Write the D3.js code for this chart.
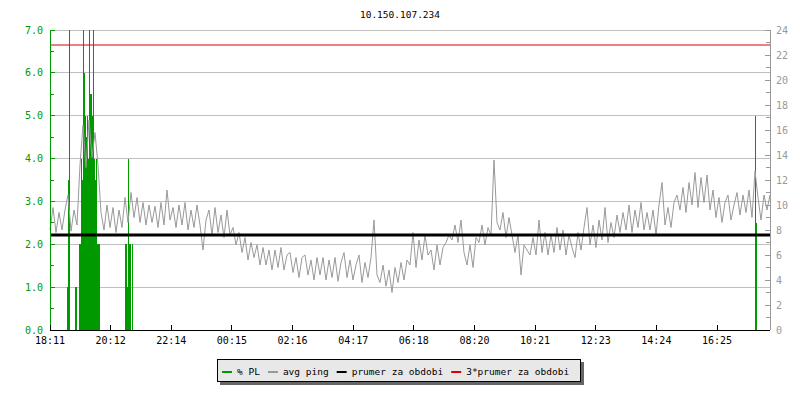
<!DOCTYPE html>
<html>
<head>
<meta charset="utf-8">
<script src="https://cdn.jsdelivr.net/npm/d3@7"></script>
<style>
  body { margin: 0; background: #fff; }
  text { font-family: "DejaVu Sans Mono", monospace; }
</style>
</head>
<body>
<script>
// Popisky a data
const title = "10.150.107.234";
const xTickLabels = ["18:11", "20:12", "22:14", "00:15", "02:16", "04:17",
                     "06:18", "08:20", "10:21", "12:23", "14:24", "16:25"];
const xTickStep = 1334 / 11;   // minuty mezi popisky
const totalMinutes = 1440;
const pingStep = 6;            // minuty mezi vzorky ping

// avg ping [ms], jeden vzorek kazdych 6 minut
const avgPing = [
  8.0, 9.8, 7.8, 9.4, 8.0, 9.6, 10.8, 7.9, 9.6, 8.4,
  13.2, 16.4, 13.0, 16.8, 13.8, 15.8, 13.2, 9.4, 8.0, 10.0,
  8.2, 9.8, 7.8, 9.6, 8.2, 10.6, 8.6, 11.0, 9.0, 10.6,
  8.6, 10.2, 8.4, 10.0, 8.6, 9.9, 8.2, 10.2, 8.4, 11.2,
  8.8, 9.8, 8.2, 10.0, 8.4, 10.2, 8.0, 9.6, 8.2, 10.0,
  8.4, 6.4, 8.8, 9.6, 7.6, 9.8, 7.8, 9.2, 7.4, 9.6,
  7.6, 8.2, 6.8, 7.8, 6.2, 7.4, 5.6, 7.0, 5.8, 6.8,
  5.2, 6.6, 5.2, 6.4, 4.8, 6.4, 5.0, 6.6, 4.8, 6.0,
  6.2, 4.6, 5.8, 4.2, 5.8, 6.0, 4.4, 5.6, 4.0, 5.8,
  4.4, 5.8, 4.0, 5.6, 4.2, 5.8, 3.9, 5.4, 6.2, 4.2,
  5.6, 4.0, 5.2, 6.0, 3.8, 5.4, 4.2, 5.8, 8.8, 4.4,
  3.8, 5.2, 3.5, 4.8, 3.0, 5.0, 3.8, 5.4, 4.0, 5.6,
  5.2, 7.8, 5.0, 7.2, 5.6, 7.6, 6.0, 6.4, 4.8, 6.8,
  5.2, 6.6, 7.0, 7.6, 7.2, 8.4, 7.0, 8.8, 6.2, 5.2,
  6.8, 5.0, 7.4, 7.0, 8.4, 6.8, 8.2, 7.6, 13.6, 8.6,
  8.0, 9.4, 7.4, 9.0, 7.6, 6.2, 7.6, 4.4, 6.8, 6.4,
  6.0, 7.4, 6.0, 8.8, 6.2, 7.8, 6.0, 7.6, 6.2, 8.2,
  6.4, 8.0, 6.0, 7.6, 6.6, 5.8, 7.8, 6.4, 8.2, 9.8,
  6.8, 8.4, 6.6, 8.8, 7.2, 9.8, 7.0, 8.6, 7.4, 9.2,
  7.8, 9.4, 8.0, 10.0, 7.8, 9.6, 8.2, 10.2, 8.0, 9.4,
  8.0, 9.6, 7.6, 10.0, 11.8, 8.4, 9.8, 8.2, 10.2, 10.8,
  9.6, 11.4, 9.4, 11.8, 10.0, 12.6, 9.8, 12.2, 10.2, 12.4,
  9.6, 11.2, 9.0, 10.6, 8.6, 10.2, 10.8, 8.8, 10.0, 11.0,
  9.2, 10.8, 9.4, 11.2, 9.0, 12.7, 10.6, 8.8, 10.8, 9.6,
  10.8
];

// % PL - jen nenulove vzorky (minuta od zacatku, hodnota)
const plTime  = [34, 36, 38, 50, 52, 58, 60, 62, 64, 66, 68, 70, 72, 74, 76, 78, 80, 82,
                 84, 86, 88, 90, 92, 94, 96, 98, 150, 152, 154, 156, 158, 160, 164, 1410, 1412];
const plValue = [1.0, 3.5, 8.0, 1.0, 1.0, 2.0, 2.0, 4.0, 3.5, 8.0, 6.0, 5.0, 4.5, 5.0, 4.0, 8.0, 5.5, 5.5,
                 5.0, 8.0, 4.0, 3.5, 4.0, 2.0, 2.0, 2.0, 2.0, 2.0, 1.0, 4.0, 2.0, 2.0, 2.0, 5.0, 2.5];

const meanPing = 7.6;   // prumer za obdobi [ms]

const leftTicks  = d3.range(0, 7.01, 1);
const rightTicks = d3.range(0, 24.01, 2);

const legendLabels = ["% PL", "avg ping", "prumer za obdobi", "3*prumer za obdobi"];
const legendColors = ["#009900", "#999999", "#000000", "#dd0000"];

// Rozmery
const W = 800, H = 400;
const L = 50, R = 770, T = 30, B = 330;

const svg = d3.select("body").append("svg")
    .attr("width", W)
    .attr("height", H);

const x = d3.scaleLinear().domain([0, totalMinutes]).range([L, R]);
const yPL = d3.scaleLinear().domain([0, 7]).range([B, T]);
const yMs = d3.scaleLinear().domain([0, 24]).range([B, T]);

// Titulek
svg.append("text")
    .attr("x", 400).attr("y", 18)
    .attr("text-anchor", "middle")
    .style("font-size", "9.5px")
    .text(title);

// Mrizka
svg.append("g")
  .selectAll("line")
  .data(leftTicks.filter(d => d > 0))
  .enter().append("line")
    .attr("x1", L).attr("x2", R)
    .attr("y1", d => yPL(d)).attr("y2", d => yPL(d))
    .attr("stroke", "#c0c0c0")
    .attr("shape-rendering", "crispEdges");

// % PL sloupce
svg.append("clipPath").attr("id", "plot")
  .append("rect").attr("x", L).attr("y", T).attr("width", R - L).attr("height", B - T);

svg.append("g")
    .attr("clip-path", "url(#plot)")
  .selectAll("rect")
  .data(plTime)
  .enter().append("rect")
    .attr("x", d => x(d))
    .attr("width", d => x(d + 2) - x(d))
    .attr("y", (d, i) => yPL(plValue[i]))
    .attr("height", (d, i) => B - yPL(plValue[i]))
    .attr("fill", "#009900")
    .attr("shape-rendering", "crispEdges");

// avg ping
const line = d3.line()
    .x((d, i) => x(i * pingStep))
    .y(d => yMs(d));

svg.append("path")
    .datum(avgPing)
    .attr("d", line)
    .attr("fill", "none")
    .attr("stroke", "#999999")
    .attr("stroke-width", 1);

// Prumer a 3*prumer
svg.append("line")
    .attr("x1", L).attr("x2", R)
    .attr("y1", yMs(meanPing)).attr("y2", yMs(meanPing))
    .attr("stroke", "#000").attr("stroke-width", 3);

svg.append("line")
    .attr("x1", L).attr("x2", R)
    .attr("y1", yMs(3 * meanPing)).attr("y2", yMs(3 * meanPing))
    .attr("stroke", "#dd0000").attr("stroke-width", 1.2);

// Leva osa (% PL)
const leftAxis = svg.append("g").attr("transform", "translate(" + L + ",0)");
leftAxis.append("line")
    .attr("y1", T).attr("y2", B)
    .attr("stroke", "#009900").attr("shape-rendering", "crispEdges");
leftAxis.selectAll(".minor")
  .data(d3.range(0.5, 7, 1))
  .enter().append("line")
    .attr("x1", 0).attr("x2", 4)
    .attr("y1", d => yPL(d)).attr("y2", d => yPL(d))
    .attr("stroke", "#009900").attr("shape-rendering", "crispEdges");
leftAxis.selectAll(".major")
  .data(leftTicks)
  .enter().append("line")
    .attr("x1", 0).attr("x2", 5)
    .attr("y1", d => yPL(d)).attr("y2", d => yPL(d))
    .attr("stroke", "#009900").attr("shape-rendering", "crispEdges");
leftAxis.selectAll("text")
  .data(leftTicks)
  .enter().append("text")
    .attr("x", -7)
    .attr("y", d => yPL(d))
    .attr("dy", "0.35em")
    .attr("text-anchor", "end")
    .attr("fill", "#009900")
    .style("font-size", "10px")
    .text(d => d3.format(".1f")(d));

// Prava osa (ms)
const rightAxis = svg.append("g").attr("transform", "translate(" + R + ",0)");
rightAxis.append("line")
    .attr("y1", T).attr("y2", B)
    .attr("stroke", "#999999").attr("shape-rendering", "crispEdges");
rightAxis.selectAll(".minor")
  .data(d3.range(1, 24, 2))
  .enter().append("line")
    .attr("x1", -4).attr("x2", 0)
    .attr("y1", d => yMs(d)).attr("y2", d => yMs(d))
    .attr("stroke", "#999999").attr("shape-rendering", "crispEdges");
rightAxis.selectAll(".major")
  .data(rightTicks)
  .enter().append("line")
    .attr("x1", -5).attr("x2", 0)
    .attr("y1", d => yMs(d)).attr("y2", d => yMs(d))
    .attr("stroke", "#999999").attr("shape-rendering", "crispEdges");
rightAxis.selectAll("text")
  .data(rightTicks)
  .enter().append("text")
    .attr("x", 6)
    .attr("y", d => yMs(d))
    .attr("dy", "0.35em")
    .attr("fill", "#999999")
    .style("font-size", "10px")
    .text(d => d);

// Spodni osa (cas)
const xAxis = svg.append("g");
xAxis.append("line")
    .attr("x1", L).attr("x2", R)
    .attr("y1", B).attr("y2", B)
    .attr("stroke", "#000").attr("shape-rendering", "crispEdges");
xAxis.selectAll(".tick")
  .data(xTickLabels)
  .enter().append("line")
    .attr("x1", (d, i) => x(i * xTickStep)).attr("x2", (d, i) => x(i * xTickStep))
    .attr("y1", B - 5).attr("y2", B)
    .attr("stroke", "#000").attr("shape-rendering", "crispEdges");
xAxis.selectAll("text")
  .data(xTickLabels)
  .enter().append("text")
    .attr("x", (d, i) => x(i * xTickStep))
    .attr("y", 344)
    .attr("text-anchor", "middle")
    .style("font-size", "10px")
    .text(d => d);

// Legenda
const lg = svg.append("g");
lg.append("rect")
    .attr("x", 220).attr("y", 362).attr("width", 364).attr("height", 23)
    .attr("fill", "#666");
lg.append("rect")
    .attr("x", 217.5).attr("y", 359.5).attr("width", 363).attr("height", 22)
    .attr("fill", "#e8e8e8").attr("stroke", "#000");

let lx = 222;
legendLabels.forEach((lab, i) => {
  lg.append("line")
      .attr("x1", lx).attr("x2", lx + 10)
      .attr("y1", 372).attr("y2", 372)
      .attr("stroke", legendColors[i]).attr("stroke-width", 2);
  const t = lg.append("text")
      .attr("x", lx + 15).attr("y", 375)
      .style("font-size", "9.5px")
      .text(lab);
  lx += 15 + t.node().getComputedTextLength() + 8;
});
</script>
</body>
</html>
